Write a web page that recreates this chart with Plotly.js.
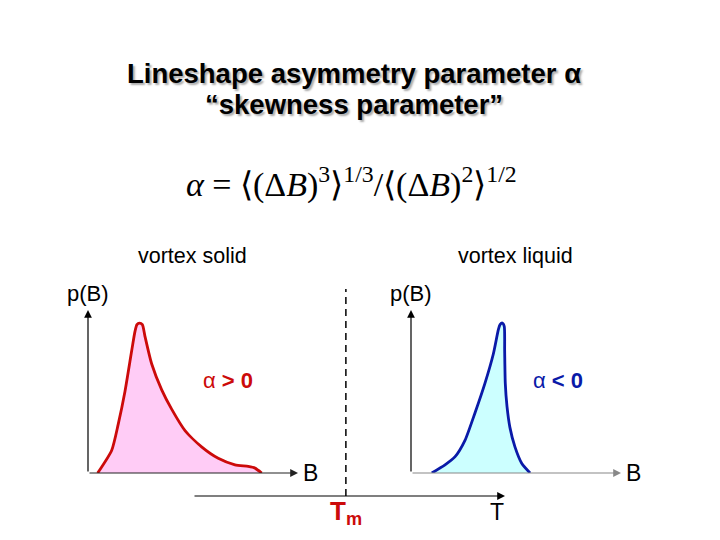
<!DOCTYPE html>
<html>
<head>
<meta charset="utf-8">
<script src="https://cdn.plot.ly/plotly-3.0.1.min.js"></script>
<style>html,body{margin:0;padding:0;background:#fff;}</style>
</head>
<body>
<div id="chart" style="width:720px;height:540px;"></div>
<script>
// Vortex solid lineshape p(B) (arbitrary units), positively skewed
const solidB = [0.46, 1.13, 1.44, 1.76, 2.08, 2.24, 2.33, 2.45, 2.59, 2.71, 3.03, 3.51, 3.99, 4.62, 5.41, 6.20, 7.00, 7.63, 7.95, 8.27];
const solidP = [0.00, 0.14, 0.30, 0.50, 0.75, 0.87, 0.91, 0.92, 0.91, 0.84, 0.67, 0.51, 0.39, 0.26, 0.16, 0.09, 0.05, 0.04, 0.03, 0.00];
// Vortex liquid lineshape p(B), negatively skewed
const liquidB = [0.99, 1.62, 2.10, 2.57, 3.05, 3.52, 3.92, 4.16, 4.24, 4.35, 4.44, 4.46, 4.49, 4.57, 4.71, 4.95, 5.27, 5.67];
const liquidP = [0.00, 0.05, 0.10, 0.20, 0.37, 0.55, 0.73, 0.88, 0.91, 0.92, 0.90, 0.75, 0.55, 0.41, 0.28, 0.16, 0.06, 0.00];
// Axis extents (B axis and p(B) axis, T axis)
const bMax = 10, pMax = 1, tMax = 1;
const tMelt = 0.49;

const W = 720, H = 540;
const px = x => x / W, py = y => 1 - y / H;

const traces = [
  {x: solidB, y: solidP, xaxis: 'x', yaxis: 'y', type: 'scatter', mode: 'lines',
   line: {color: '#cc0a0a', width: 2.8, shape: 'spline', smoothing: 0.6},
   fill: 'tozeroy', fillcolor: '#ffccf6', hoverinfo: 'skip', showlegend: false},
  {x: liquidB, y: liquidP, xaxis: 'x2', yaxis: 'y2', type: 'scatter', mode: 'lines',
   line: {color: '#0a1aa8', width: 2.8, shape: 'spline', smoothing: 0.6},
   fill: 'tozeroy', fillcolor: '#ccffff', hoverinfo: 'skip', showlegend: false}
];

const hidden = {visible: false, fixedrange: true};
const font = 'Liberation Sans, Arial, sans-serif';

function arrow(xr, yr, x0, y0, x1, y1, color) {
  return {xref: xr, yref: yr, axref: xr, ayref: yr, x: x1, y: y1, ax: x0, ay: y0,
    showarrow: true, arrowhead: 2, arrowsize: 1.3, arrowwidth: 1.2, arrowcolor: color,
    standoff: 0, startstandoff: 0, text: ''};
}
function label(text, x, y, size, color, extra) {
  return Object.assign({xref: 'paper', yref: 'paper', x: px(x), y: py(y), text: text,
    showarrow: false, xanchor: 'center', yanchor: 'middle',
    font: {family: font, size: size, color: color}}, extra || {});
}
const titleFont = {family: font, size: 27.5, color: '#000', shadow: '2px 2px 2px #aaa'};

const layout = {
  width: W, height: H,
  margin: {l: 0, r: 0, t: 0, b: 0},
  paper_bgcolor: '#ffffff', plot_bgcolor: 'rgba(0,0,0,0)',
  showlegend: false,
  xaxis: Object.assign({domain: [px(88), px(298)], range: [0, bMax], anchor: 'y'}, hidden),
  yaxis: Object.assign({domain: [py(473), py(310)], range: [0, pMax], anchor: 'x'}, hidden),
  xaxis2: Object.assign({domain: [px(411), px(621)], range: [0, bMax], anchor: 'y2'}, hidden),
  yaxis2: Object.assign({domain: [py(473), py(310)], range: [0, pMax], anchor: 'x2'}, hidden),
  xaxis3: Object.assign({domain: [px(193), px(505)], range: [0, tMax], anchor: 'y3'}, hidden),
  yaxis3: Object.assign({domain: [py(496), py(289)], range: [0, 1], anchor: 'x3'}, hidden),
  shapes: [
    {type: 'line', xref: 'x3', yref: 'y3', x0: tMelt, x1: tMelt, y0: 0, y1: 1,
     line: {color: '#000', width: 1.5, dash: '7px,5px'}}
  ],
  annotations: [
    label('<b>Lineshape asymmetry parameter α</b>', 354, 73, 27.5, '#000', {font: titleFont}),
    label('<b>“skewness parameter”</b>', 354, 104, 27.5, '#000', {font: titleFont}),
    {xref: 'paper', yref: 'paper', x: px(351), y: py(182), showarrow: false,
     xanchor: 'center', yanchor: 'middle',
     text: '<i>α</i> = ⟨(Δ<i>B</i>)<sup>3</sup>⟩<sup>1/3</sup>/⟨(Δ<i>B</i>)<sup>2</sup>⟩<sup>1/2</sup>',
     font: {family: 'Liberation Serif, Times New Roman, serif', size: 34, color: '#000'}},
    label('vortex solid', 192, 256, 21.5, '#000'),
    label('vortex liquid', 515, 256, 21.5, '#000'),
    label('p(B)', 88, 293, 22, '#000'),
    label('p(B)', 411, 293, 22, '#000'),
    label('B', 310, 473, 23, '#000'),
    label('B', 633, 473, 23, '#000'),
    label('α <b>&gt; 0</b>', 228, 380, 22, '#cc0a0a'),
    label('α <b>&lt; 0</b>', 558, 380, 22, '#0a1aa8'),
    label('<b>T<sub>m</sub></b>', 346, 512, 26, '#cc0a0a'),
    label('T', 497, 512, 23, '#000'),
    arrow('x', 'y', 0, 0, 0, pMax, '#000'),
    arrow('x', 'y', 0, 0, bMax, 0, '#222'),
    arrow('x2', 'y2', 0, 0, 0, pMax, '#000'),
    arrow('x2', 'y2', 0, 0, bMax, 0, '#888'),
    arrow('x3', 'y3', 0, 0, tMax, 0, '#000')
  ]
};

Plotly.newPlot('chart', traces, layout, {displayModeBar: false, staticPlot: true});
</script>
</body>
</html>
